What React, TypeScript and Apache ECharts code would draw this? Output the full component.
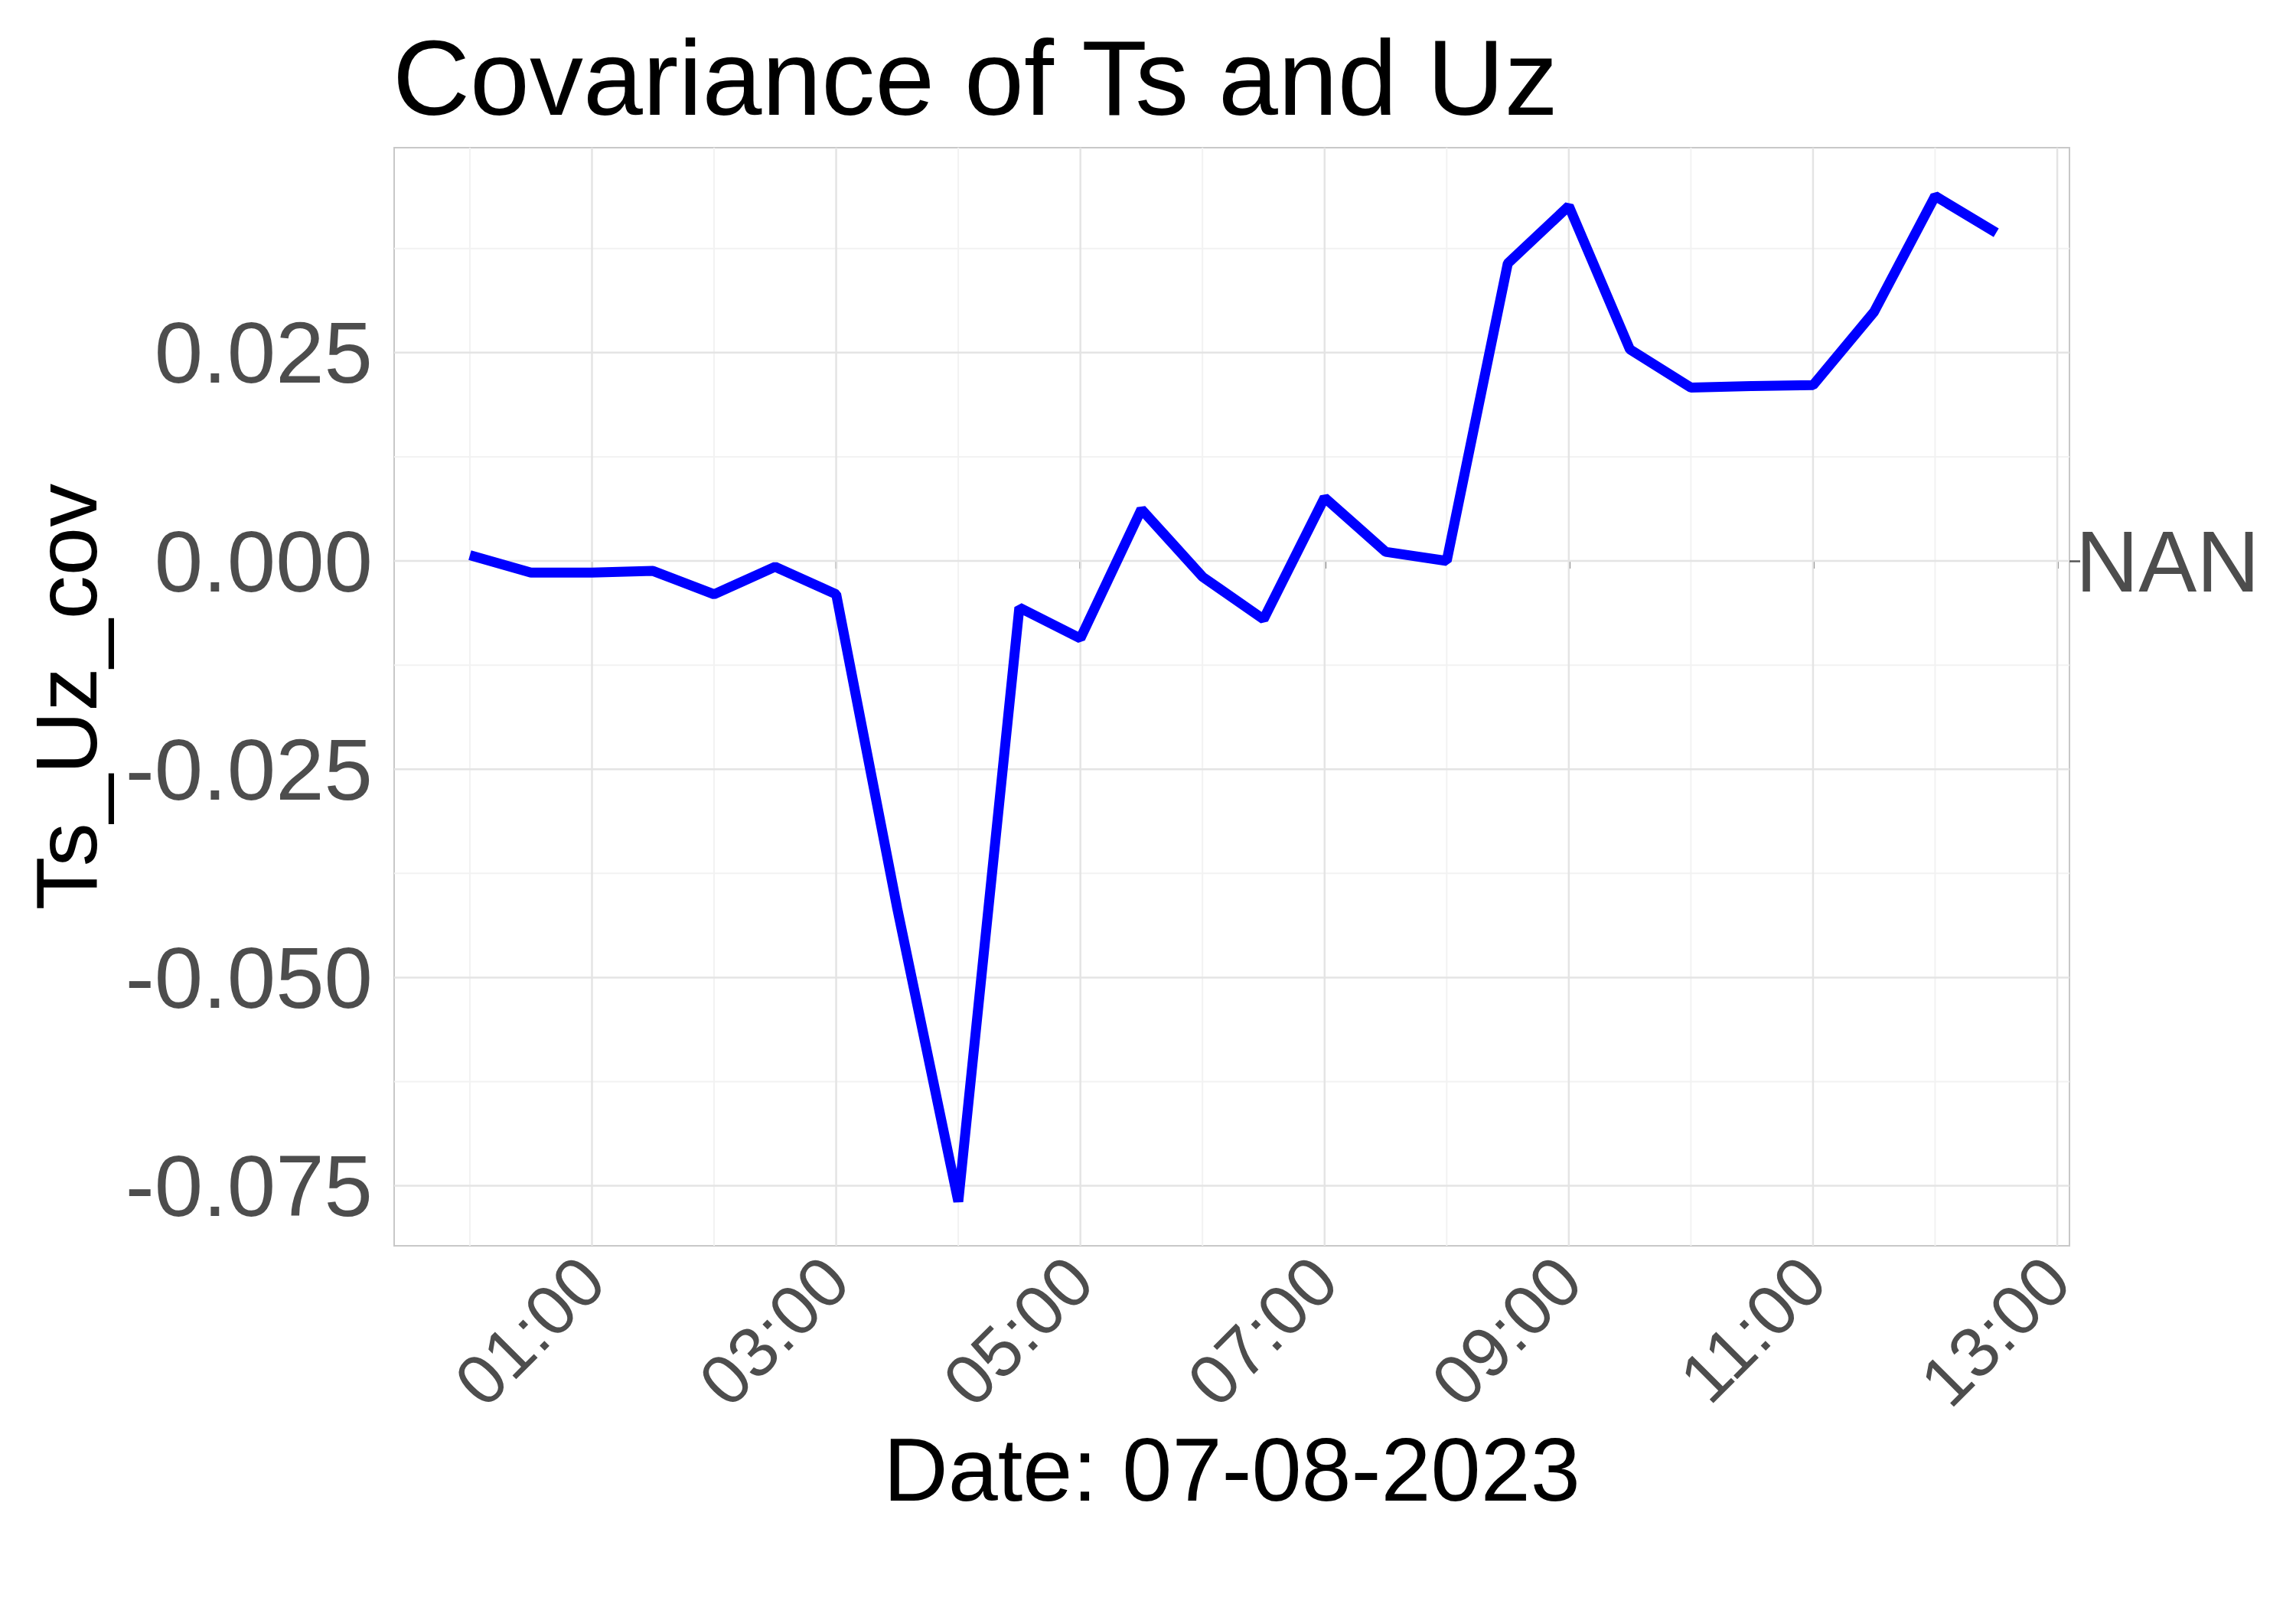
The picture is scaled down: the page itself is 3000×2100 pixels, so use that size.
import { useEffect, useRef } from "react";
import * as echarts from "echarts";

// hours since midnight, 07-08-2023
const hours = [0, 0.5, 1, 1.5, 2, 2.5, 3, 3.5, 4, 4.5, 5, 5.5, 6, 6.5, 7, 7.5, 8, 8.5, 9, 9.5, 10, 10.5, 11, 11.5, 12, 12.5];
const covValues = [
  0.0007, -0.0014, -0.0014, -0.0012, -0.004, -0.0007, -0.004, -0.0417, -0.0769, -0.0056,
  -0.0093, 0.0062, -0.0019, -0.007, 0.0076, 0.0011, 0.0, 0.0357, 0.0426, 0.0254,
  0.0208, 0.021, 0.0211, 0.0299, 0.0438, 0.0394,
];
const xMajor = [1, 3, 5, 7, 9, 11, 13];
const xMinor = [0, 2, 4, 6, 8, 10, 12];
const yMajor = [-0.075, -0.05, -0.025, 0, 0.025];
const yMinor = [-0.0625, -0.0375, -0.0125, 0.0125, 0.0375];

const X_MIN = -0.62;
const X_MAX = 13.1;
const Y_MIN = -0.0822;
const Y_MAX = 0.0496;

const fmtHour = (v: number) => `${String(Math.round(v)).padStart(2, "0")}:00`;
const fmtY = (v: number) => v.toFixed(3);

export default function App() {
  const ref = useRef<HTMLDivElement>(null);

  useEffect(() => {
    if (!ref.current) return;
    const chart = echarts.init(ref.current, null, { renderer: "svg" });
    const font = "'Liberation Sans', Arial, sans-serif";

    // gridlines: [orientation (0 = vertical, 1 = horizontal), value, major?]
    const gridData = [
      ...xMinor.map(v => [0, v, 0]),
      ...yMinor.map(v => [1, v, 0]),
      ...xMajor.filter(v => v < X_MAX).map(v => [0, v, 1]),
      ...yMajor.map(v => [1, v, 1]),
    ];

    chart.setOption({
      animation: false,
      backgroundColor: "#ffffff",
      textStyle: { fontFamily: font },
      title: {
        text: "Covariance of Ts and Uz",
        left: 508,
        top: 26,
        textStyle: { fontFamily: font, fontSize: 140, fontWeight: "normal", color: "#000" },
      },
      grid: { left: 515, right: 296, top: 193, bottom: 472, show: true, borderColor: "#c8c8c8", borderWidth: 2 },
      xAxis: {
        type: "value",
        min: X_MIN,
        max: X_MAX,
        name: "Date: 07-08-2023",
        nameLocation: "middle",
        nameGap: 292,
        nameTextStyle: { fontFamily: font, fontSize: 117, color: "#000", verticalAlign: "middle" },
        axisLine: { show: false },
        splitLine: { show: false },
        axisTick: { show: true, customValues: xMajor, length: 10, lineStyle: { color: "#555", width: 2.5 } },
        axisLabel: {
          customValues: xMajor,
          formatter: fmtHour,
          rotate: 45,
          margin: 30,
          fontFamily: font,
          fontSize: 92,
          color: "#4d4d4d",
        },
      },
      yAxis: [
        {
          type: "value",
          min: Y_MIN,
          max: Y_MAX,
          name: "Ts_Uz_cov",
          nameLocation: "middle",
          nameGap: 429,
          nameTextStyle: { fontFamily: font, fontSize: 114, color: "#000", verticalAlign: "middle" },
          axisLine: { show: false },
          splitLine: { show: false },
          axisTick: { show: false },
          axisLabel: { customValues: yMajor, formatter: fmtY, margin: 28, fontFamily: font, fontSize: 114, color: "#4d4d4d" },
        },
        {
          type: "value",
          position: "right",
          min: Y_MIN,
          max: Y_MAX,
          axisLine: { show: false },
          splitLine: { show: false },
          axisTick: { show: true, customValues: [0], length: 14, lineStyle: { color: "#555", width: 2.5 } },
          axisLabel: { customValues: [0], formatter: () => "NAN", margin: 8, fontFamily: font, fontSize: 114, color: "#4d4d4d" },
        },
      ],
      series: [
        {
          type: "custom",
          silent: true,
          z: 1,
          data: gridData,
          renderItem: (_params: any, api: any) => {
            const orient = api.value(0);
            const v = api.value(1);
            const major = api.value(2) === 1;
            let p1: number[];
            let p2: number[];
            if (orient === 0) {
              p1 = api.coord([v, Y_MIN]);
              p2 = api.coord([v, Y_MAX]);
            } else {
              p1 = api.coord([X_MIN, v]);
              p2 = api.coord([X_MAX, v]);
            }
            return {
              type: "line",
              shape: { x1: p1[0], y1: p1[1], x2: p2[0], y2: p2[1] },
              style: { stroke: major ? "#e4e4e4" : "#f2f2f2", lineWidth: major ? 2.5 : 2 },
            };
          },
        },
        {
          type: "line",
          data: hours.map((h, i) => [h, covValues[i]]),
          symbol: "none",
          lineStyle: { color: "#0000ff", width: 13 },
          z: 5,
        },
      ],
    });

    return () => chart.dispose();
  }, []);

  return <div ref={ref} style={{ width: 3000, height: 2100, margin: -8 }} />;
}
